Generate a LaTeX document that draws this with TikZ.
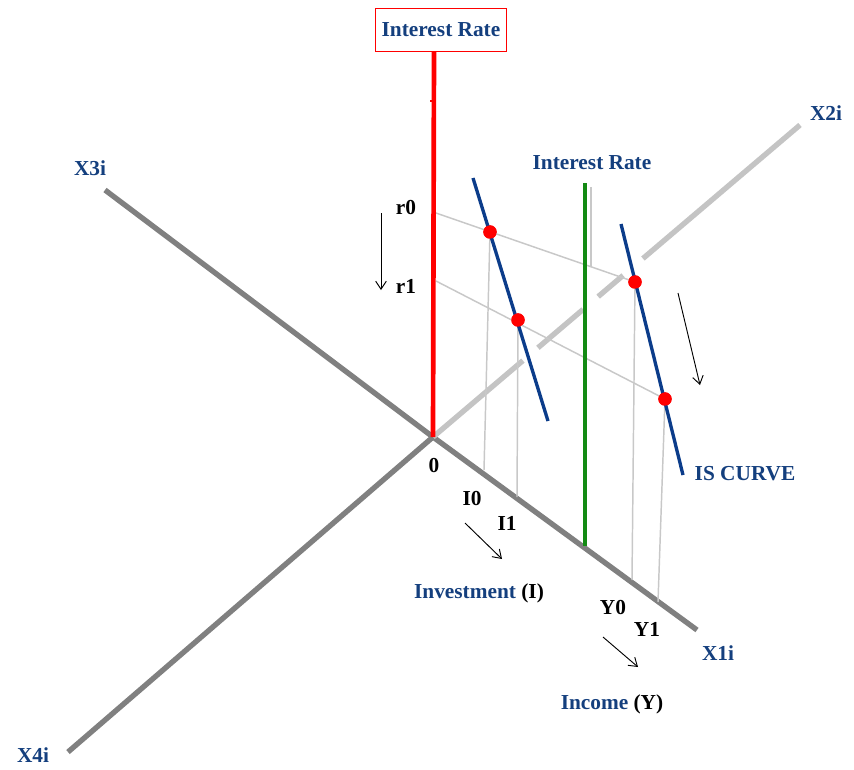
\documentclass[tikz,border=0pt]{standalone}
\usepackage{fontspec}
\setmainfont{Liberation Serif}
\usetikzlibrary{arrows.meta,calc}
\definecolor{lblblue}{HTML}{143F7E}
\definecolor{isblue}{HTML}{0B3C8A}
\definecolor{axgray}{HTML}{808080}
\definecolor{ltgray}{HTML}{C4C4C4}
\definecolor{guide}{HTML}{C8C8C8}
\definecolor{grn}{HTML}{138A13}
\definecolor{redax}{HTML}{FF0000}
\begin{document}
\begin{tikzpicture}[x=0.75pt,y=-0.75pt,
 lbl/.style={font=\fontsize{16}{19}\selectfont\bfseries, text=lblblue, inner sep=0pt},
 num/.style={font=\fontsize{16}{19}\selectfont\bfseries, text=black, inner sep=0pt},
 axis/.style={draw=axgray, line width=4pt},
 axlight/.style={draw=ltgray, line width=4pt},
 guideline/.style={draw=guide, line width=1.1pt},
 iscurve/.style={draw=isblue, line width=2.5pt},
 movearrow/.style={draw=black, line width=0.7pt, -{Straight Barb[length=6pt,width=8pt]}},
 dot/.style={circle, fill=red, inner sep=0pt, minimum size=10pt}]
\useasboundingbox (0,0) rectangle (854,769);
\fill[white] (0,0) rectangle (854,769);

% key points
\coordinate (O) at (433,437);
\coordinate (E3) at (105,190);
\coordinate (E1) at (697,630);
\coordinate (E4) at (68,752);
\coordinate (E2) at (800,125);
\coordinate (Rtop) at (434,52);
\coordinate (R0) at (436,213);
\coordinate (R1) at (436,281);
\coordinate (ISLa) at (473,178);
\coordinate (ISLb) at (548,421);
\coordinate (ISRa) at (621,224);
\coordinate (ISRb) at (683,475);
\coordinate (Gtop) at (585,183);
\coordinate (Gbot) at (585,546);
\coordinate (GLa) at (591,187);
\coordinate (GLb) at (591,267);
\coordinate (I0f) at (484,470);
\coordinate (I1f) at (517,497);
\coordinate (Y0f) at (632,580);
\coordinate (Y1f) at (658,602);

% axes
\draw[axis] (E3) -- (O);
\draw[axis] (O) -- (E1);
\draw[axis] (O) -- (E4);
\draw[axlight] (O) -- ($(O)!0.245!(E2)$);
\draw[axlight] ($(O)!0.286!(E2)$) -- ($(O)!0.409!(E2)$);
\draw[axlight] ($(O)!0.450!(E2)$) -- ($(O)!0.518!(E2)$);
\draw[axlight] ($(O)!0.572!(E2)$) -- (E2);

% dots
\node[dot] (A) at (490,232) {};
\node[dot] (B) at (518,320) {};
\node[dot] (C) at (635,282) {};
\node[dot] (D) at (665,399) {};

% guide lines
\draw[guideline] (R0) -- (C.center);
\draw[guideline] (R1) -- (D.center);
\draw[guideline] (A.center) -- (I0f);
\draw[guideline] (B.center) -- (I1f);
\draw[guideline] (C.center) -- (Y0f);
\draw[guideline] (D.center) -- (Y1f);
\draw[guideline] (GLa) -- (GLb);

% IS curves
\draw[iscurve] (ISLa) -- (ISLb);
\draw[iscurve] (ISRa) -- (ISRb);

% green interest rate line
\draw[draw=grn, line width=2.5pt] (Gtop) -- (Gbot);

% red axis
\draw[draw=redax, line width=3.5pt] (O) -- (Rtop);
\draw[draw=redax, line width=0.8pt] (434,101) -- (430,101);

% redraw dots on top
\node[dot] at (A) {};
\node[dot] at (B) {};
\node[dot] at (C) {};
\node[dot] at (D) {};

% top box
\node[lbl, draw=redax, line width=1.2pt, minimum width=98pt, minimum height=32pt, fill=white] (top) at (441,30) {Interest Rate};

% labels
\node[lbl] (irate) at (592,163) {Interest Rate};
\node[lbl] (x3) at (90,168) {X3i};
\node[lbl] (x2) at (826,113) {X2i};
\node[lbl] (x4) at (33,755) {X4i};
\node[lbl] (x1) at (718,653) {X1i};
\node[lbl] (is) at (745,474) {IS CURVE};
\node[num] (r0) at (406,208) {r0};
\node[num] (r1) at (406,286) {r1};
\node[num] (zero) at (434,466) {0};
\node[num] (i0) at (472,498) {I0};
\node[num] (i1) at (507,523) {I1};
\node[num] (y0) at (613,607) {Y0};
\node[num] (y1) at (647,629) {Y1};
\node[num] (inv) at (479,593) {\textcolor{lblblue}{Investment} (I)};
\node[num] (inc) at (612,704) {\textcolor{lblblue}{Income} (Y)};

% movement arrows
\coordinate (ra1) at (381,213); \coordinate (ra2) at (381,290);
\coordinate (ia1) at (465,523); \coordinate (ia2) at (502,559);
\coordinate (ya1) at (603,637); \coordinate (ya2) at (638,667);
\coordinate (sa1) at (678,293); \coordinate (sa2) at (700,385);
\draw[movearrow] (ra1) -- (ra2);
\draw[movearrow] (ia1) -- (ia2);
\draw[movearrow] (ya1) -- (ya2);
\draw[movearrow] (sa1) -- (sa2);
\end{tikzpicture}
\end{document}
